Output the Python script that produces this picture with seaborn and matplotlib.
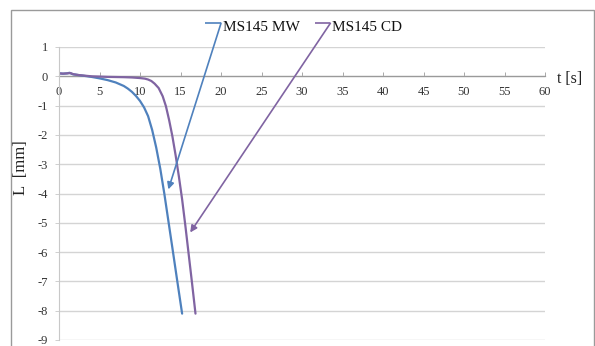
import numpy as np
import pandas as pd
import matplotlib
matplotlib.use("Agg")
import matplotlib.pyplot as plt
from matplotlib.patches import Rectangle
import seaborn as sns

# ---- data ----
t_mw = [0, 0.5, 1.0, 1.3, 1.7, 2.2, 3, 4, 5, 6, 7, 8, 8.5, 9, 9.5, 10, 10.5,
        11, 11.5, 12, 12.5, 13, 13.5, 14, 14.5, 15, 15.2]
l_mw = [0.10, 0.09, 0.10, 0.12, 0.07, 0.05, 0.02, -0.02, -0.07, -0.13, -0.21,
        -0.33, -0.42, -0.53, -0.67, -0.84, -1.06, -1.36, -1.83, -2.43, -3.15,
        -4.00, -4.93, -5.86, -6.80, -7.73, -8.10]
t_cd = [0, 0.5, 1.0, 1.4, 1.8, 2.5, 4, 6, 8, 9, 10, 10.6, 11.0, 11.4, 11.8,
        12.3, 12.8, 13.2, 13.6, 14.0, 14.4, 14.8, 15.2, 15.6, 16.0, 16.4, 16.85]
l_cd = [0.10, 0.09, 0.10, 0.11, 0.07, 0.04, 0.00, -0.02, -0.03, -0.04, -0.06,
        -0.08, -0.11, -0.16, -0.25, -0.40, -0.68, -1.02, -1.50, -2.05, -2.70,
        -3.42, -4.20, -5.10, -6.05, -7.00, -8.10]
series_names = ["MS145 MW", "MS145 CD"]
colors = ["#4F81BD", "#8064A2"]
x_ticks = list(range(0, 61, 5))
y_ticks = list(range(-9, 2))
# annotation anchors: (start of horizontal stub, corner, arrow tip)
ann_mw = [(18.0, 1.81), (20.0, 1.81), (13.5, -3.86)]
ann_cd = [(31.6, 1.81), (33.5, 1.81), (16.2, -5.33)]

df = pd.concat([
    pd.DataFrame({"t": t_mw, "L": l_mw, "series": series_names[0]}),
    pd.DataFrame({"t": t_cd, "L": l_cd, "series": series_names[1]}),
])

sns.set_theme(style="white")
plt.rcParams["font.family"] = ["Liberation Serif", "DejaVu Serif"]

fig = plt.figure(figsize=(5.95, 3.46), dpi=100)
fig.patch.set_facecolor("white")
ax = fig.add_axes([59/595, 1-340/346, (545-59)/595, (340-47)/346])

sns.lineplot(data=df, x="t", y="L", hue="series", palette=colors,
             sort=False, estimator=None, linewidth=1.6, legend=False, ax=ax)
for ln in ax.get_lines():
    ln.set_solid_joinstyle("round")

ax.set_xlim(0, 60)
ax.set_ylim(-9, 1)
ax.set_yticks(y_ticks)
ax.set_xticks(x_ticks)
ax.set_yticklabels([str(v) for v in y_ticks])
ax.set_xticklabels([str(v) for v in x_ticks])
ax.grid(axis="y", color="#D4D4D4", linewidth=1.0)
ax.set_axisbelow(True)

for s in ["top", "right"]:
    ax.spines[s].set_visible(False)
ax.spines["left"].set_color("#C8C8C8")
ax.spines["left"].set_linewidth(0.8)
ax.spines["bottom"].set_position(("data", 0))
ax.spines["bottom"].set_color("#9A9A9A")
ax.spines["bottom"].set_linewidth(0.9)
ax.spines["bottom"].set_zorder(1)

ax.tick_params(axis="x", direction="in", length=3, width=0.6, color="#9A9A9A",
               labelsize=9, labelcolor="#333333", pad=7, bottom=True)
ax.tick_params(axis="y", direction="out", length=3, width=0.6, color="#C8C8C8",
               labelsize=9, labelcolor="#333333", pad=5, left=True)

ax.set_xlabel("")
ax.set_ylabel("L  [mm]", fontsize=12, color="#222222")
ax.yaxis.set_label_coords(-0.062, 0.59)
ax.text(61.5, -0.08, "t [s]", fontsize=11.5, color="#222222", ha="left",
        va="center", clip_on=False)

for ann, col, name in [(ann_mw, colors[0], series_names[0]),
                       (ann_cd, colors[1], series_names[1])]:
    (x0, y0), (x1, y1), (x2, y2) = ann
    ax.plot([x0, x1], [y0, y1], color=col, lw=1.2, clip_on=False,
            solid_capstyle="butt")
    ax.annotate("", xy=(x2, y2), xytext=(x1, y1),
                arrowprops=dict(arrowstyle="-|>", color=col, lw=1.2,
                                mutation_scale=10, shrinkA=0, shrinkB=0),
                annotation_clip=False)
    ax.text(x1 + 0.2, y1 - 0.26, name, fontsize=11, color="#111111",
            ha="left", va="baseline", clip_on=False)

fig.patches.append(Rectangle((11/595, -0.05), (594-11)/595, 1.05 - 10/346,
                             transform=fig.transFigure, fill=False,
                             edgecolor="#9A9A9A", linewidth=1.0))

fig.savefig("out.png", dpi=100)
